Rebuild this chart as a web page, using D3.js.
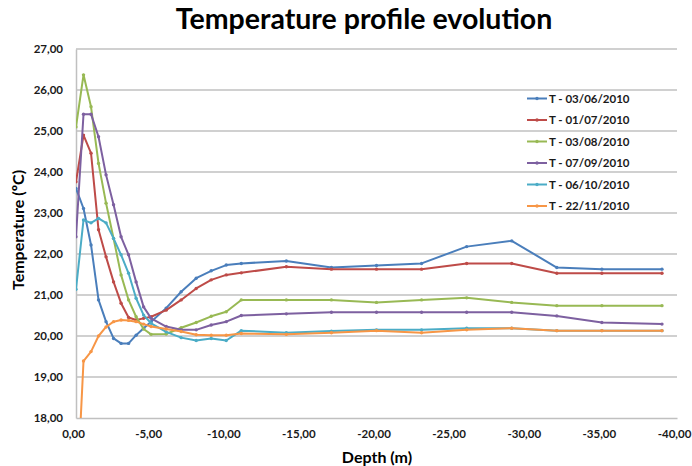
<!DOCTYPE html>
<html>
<head>
<meta charset="utf-8">
<script src="https://cdn.jsdelivr.net/npm/d3@7"></script>
<style>
  html, body { margin: 0; padding: 0; background: #fff; }
  svg text { font-family: Lato, "Open Sans", sans-serif; }
</style>
</head>
<body>
<svg id="chart" width="692" height="466"></svg>
<script>
const depths = [0, -0.5, -1, -1.5, -2, -2.5, -3, -3.5, -4, -4.5, -5, -6, -7, -8, -9, -10, -11, -14, -17, -20, -23, -26, -29, -32, -35, -39];

const seriesNames = ["T - 03/06/2010", "T - 01/07/2010", "T - 03/08/2010", "T - 07/09/2010", "T - 06/10/2010", "T - 22/11/2010"];

const t0306 = [23.6, 23.11, 22.22, 20.88, 20.35, 19.94, 19.82, 19.82, 20.02, 20.19, 20.35, 20.68, 21.08, 21.41, 21.59, 21.73, 21.77, 21.83, 21.67, 21.72, 21.77, 22.18, 22.32, 21.67, 21.63, 21.63];
const t0107 = [23.76, 24.9, 24.46, 22.59, 21.93, 21.32, 20.8, 20.45, 20.39, 20.43, 20.47, 20.63, 20.88, 21.16, 21.37, 21.49, 21.54, 21.69, 21.63, 21.63, 21.63, 21.77, 21.77, 21.53, 21.53, 21.53];
const t0308 = [25.1, 26.37, 25.59, 24.21, 23.24, 22.38, 21.49, 20.88, 20.47, 20.17, 20.04, 20.05, 20.2, 20.33, 20.48, 20.59, 20.88, 20.88, 20.88, 20.82, 20.88, 20.93, 20.82, 20.74, 20.74, 20.74];
const t0709 = [22.42, 25.41, 25.41, 24.86, 23.93, 23.2, 22.42, 21.98, 21.32, 20.71, 20.43, 20.23, 20.15, 20.15, 20.27, 20.35, 20.5, 20.54, 20.58, 20.58, 20.58, 20.58, 20.58, 20.49, 20.33, 20.29];
const t0610 = [21.14, 22.83, 22.76, 22.87, 22.76, 22.38, 21.98, 21.53, 20.92, 20.51, 20.31, 20.1, 19.96, 19.89, 19.94, 19.89, 20.13, 20.08, 20.12, 20.15, 20.15, 20.19, 20.19, 20.13, 20.13, 20.13];
const t2211 = [15.6, 19.39, 19.62, 20.0, 20.22, 20.35, 20.39, 20.38, 20.35, 20.29, 20.23, 20.17, 20.11, 20.03, 20.02, 20.02, 20.06, 20.04, 20.08, 20.13, 20.08, 20.15, 20.19, 20.13, 20.13, 20.13];

const seriesValues = [t0306, t0107, t0308, t0709, t0610, t2211];
const colors = ["#4A7EBB", "#BE4B48", "#98B954", "#7D60A0", "#4BACC6", "#F79646"];

const xTicks = [0, -5, -10, -15, -20, -25, -30, -35, -40];
const yTicks = [18, 19, 20, 21, 22, 23, 24, 25, 26, 27];

const svg = d3.select("#chart");
const L = 76, R = 677, T = 49, B = 418;

const x = d3.scaleLinear().domain([0, -40]).range([L, R]);
const y = d3.scaleLinear().domain([18, 27]).range([B, T]);
const fmt = v => d3.format(".2f")(v).replace(".", ",").replace("−", "-");

// title
svg.append("text").attr("x", 364).attr("y", 29).attr("text-anchor", "middle")
  .attr("font-size", 28.5).attr("font-weight", "bold").attr("fill", "#000")
  .text("Temperature profile evolution");

// gridlines
svg.append("g").selectAll("line").data(yTicks.filter(d => d > 18)).join("line")
  .attr("x1", L).attr("x2", R).attr("y1", d => y(d)).attr("y2", d => y(d))
  .attr("stroke", "#C0C0C0").attr("stroke-width", 1.5);

// axes
const yAxis = d3.axisLeft(y).tickValues(yTicks).tickFormat(fmt).tickSize(0).tickPadding(13);
const gy = svg.append("g").attr("transform", `translate(${L},0)`).call(yAxis);
gy.select(".domain").attr("stroke", "#C0C0C0").attr("stroke-width", 1.5);
gy.selectAll("text").attr("font-size", 11.5).attr("font-weight", "bold").attr("fill", "#1a1a1a");

const xAxis = d3.axisBottom(x).tickValues(xTicks).tickFormat(fmt).tickSize(0).tickPadding(12);
const gx = svg.append("g").attr("transform", `translate(0,${B})`).call(xAxis);
gx.select(".domain").attr("stroke", "#C0C0C0").attr("stroke-width", 1.5);
gx.selectAll("text").attr("font-size", 11.5).attr("font-weight", "bold").attr("fill", "#1a1a1a")
  .attr("dx", -3);

// axis titles
svg.append("text").attr("x", 377).attr("y", 463).attr("text-anchor", "middle")
  .attr("font-size", 16).attr("font-weight", "bold").text("Depth (m)");
svg.append("text").attr("transform", "translate(24,230) rotate(-90)").attr("text-anchor", "middle")
  .attr("font-size", 16).attr("font-weight", "bold").text("Temperature (ºC)");

// clip
svg.append("clipPath").attr("id", "plotclip").append("rect")
  .attr("x", L).attr("y", T - 5).attr("width", R - L + 5).attr("height", B - T + 5);

const line = d3.line().x(d => x(d[0])).y(d => y(d[1]));
const plot = svg.append("g").attr("clip-path", "url(#plotclip)");

seriesValues.forEach((vals, i) => {
  const pts = depths.map((d, j) => [d, vals[j]]);
  const g = plot.append("g");
  g.append("path").datum(pts).attr("d", line).attr("fill", "none")
    .attr("stroke", colors[i]).attr("stroke-width", 2).attr("stroke-linejoin", "round");
  g.selectAll("circle").data(pts).join("circle")
    .attr("cx", d => x(d[0])).attr("cy", d => y(d[1])).attr("r", 1.7)
    .attr("fill", colors[i]);
});

// legend
const lg = svg.append("g");
seriesNames.forEach((name, i) => {
  const yy = 98.5 + i * 21.5;
  lg.append("line").attr("x1", 527).attr("x2", 547).attr("y1", yy).attr("y2", yy)
    .attr("stroke", colors[i]).attr("stroke-width", 2);
  lg.append("circle").attr("cx", 537).attr("cy", yy).attr("r", 1.7).attr("fill", colors[i]);
  lg.append("text").attr("x", 549).attr("y", yy + 4).attr("font-size", 11.5)
    .attr("font-weight", "bold").attr("fill", "#1a1a1a").text(name);
});
</script>
</body>
</html>
